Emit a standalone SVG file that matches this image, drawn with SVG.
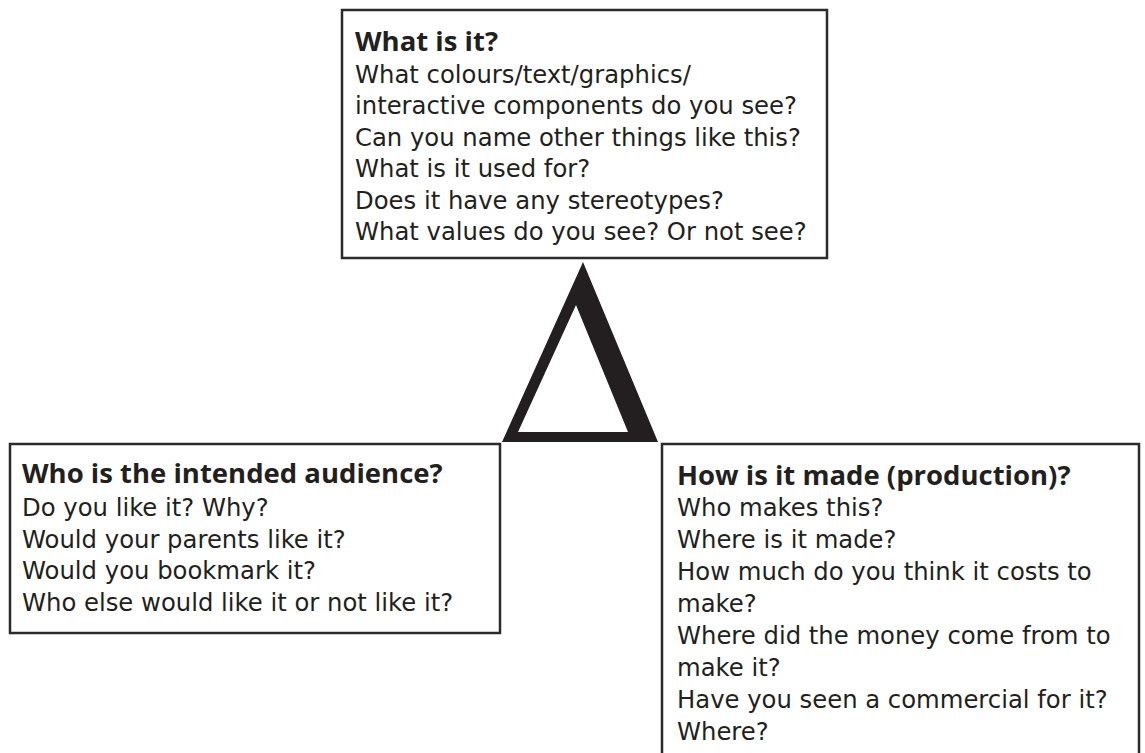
<svg xmlns="http://www.w3.org/2000/svg" width="1145" height="753" viewBox="0 0 1145 753">
<style>
.box{fill:#fff;stroke:#2b2b2b;stroke-width:2.5}
.t{font-family:"Open Sans","Liberation Sans",sans-serif;font-weight:700;font-size:27.5px;fill:#231f20}
.b{font-family:"DejaVu Sans","Open Sans",sans-serif;font-size:24.3px;fill:#231f20}
</style>
<rect width="1145" height="753" fill="#fff"/>
<g id="connectors">
<path d="M583,262 L658,442 L502,442 Z M576,305 L518,432 L628,432 Z" fill="#231f20" fill-rule="evenodd"/>
</g>
<g id="node-what">
<rect class="box" x="342" y="10" width="485" height="248"/>
<text class="t" x="355" y="50.5">What is it?</text>
<text class="b" x="355" y="82.5">What colours/text/graphics/</text>
<text class="b" x="355" y="114">interactive components do you see?</text>
<text class="b" x="355" y="145.5">Can you name other things like this?</text>
<text class="b" x="355" y="177">What is it used for?</text>
<text class="b" x="355" y="208.5">Does it have any stereotypes?</text>
<text class="b" x="355" y="240">What values do you see? Or not see?</text>
</g>
<g id="node-audience">
<rect class="box" x="10" y="444" width="490" height="189"/>
<text class="t" x="22" y="483">Who is the intended audience?</text>
<text class="b" x="22" y="516">Do you like it? Why?</text>
<text class="b" x="22" y="548">Would your parents like it?</text>
<text class="b" x="22" y="579">Would you bookmark it?</text>
<text class="b" x="22" y="611">Who else would like it or not like it?</text>
</g>
<g id="node-production">
<path class="box" d="M662,760 V444 H1139 V760"/>
<text class="t" x="677" y="485">How is it made (production)?</text>
<text class="b" x="677" y="516">Who makes this?</text>
<text class="b" x="677" y="548">Where is it made?</text>
<text class="b" x="677" y="580">How much do you think it costs to</text>
<text class="b" x="677" y="612">make?</text>
<text class="b" x="677" y="644">Where did the money come from to</text>
<text class="b" x="677" y="676">make it?</text>
<text class="b" x="677" y="708">Have you seen a commercial for it?</text>
<text class="b" x="677" y="740">Where?</text>
</g>
</svg>
